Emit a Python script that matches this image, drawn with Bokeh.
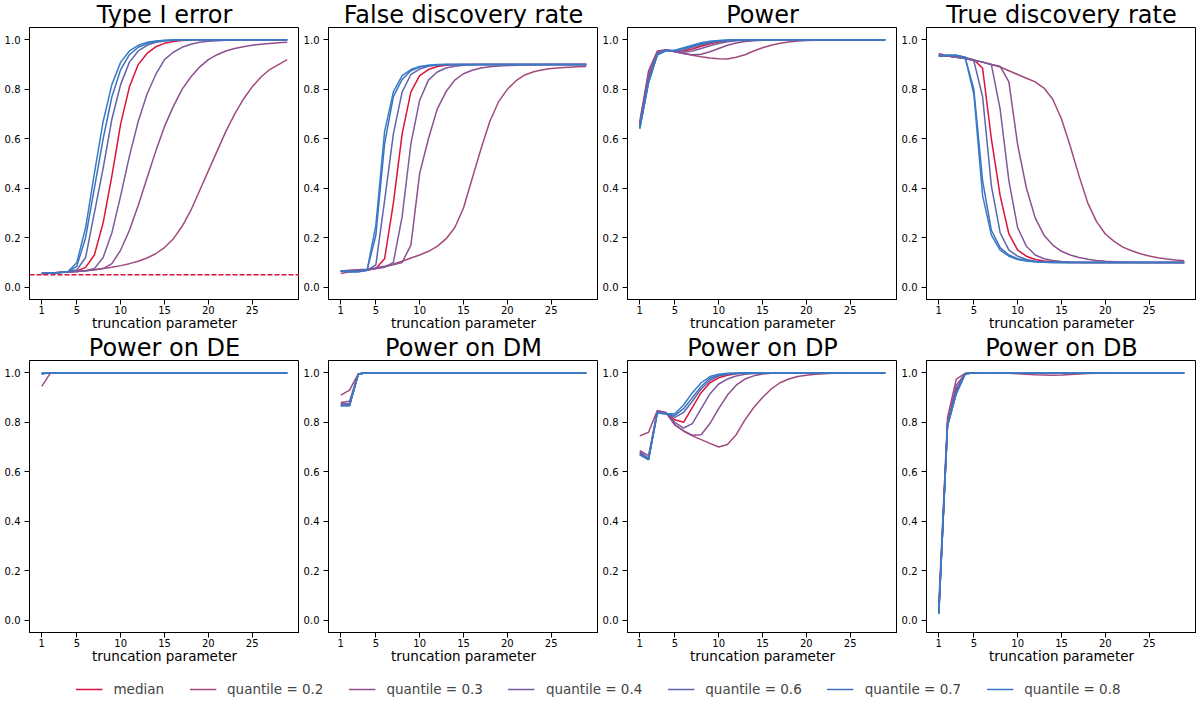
from bokeh.plotting import figure
from bokeh.models import Range1d, FixedTicker, NumeralTickFormatter, Span, Title, Legend, LegendItem
from bokeh.layouts import column, row
from bokeh.embed import file_html
from bokeh.resources import INLINE

FONT = "DejaVu Sans"

# ---------------- data ----------------
x_vals = [1, 2, 3, 4, 5, 6, 7, 8, 9, 10, 11, 12, 13, 14, 15, 16, 17, 18, 19, 20,
          21, 22, 23, 24, 25, 26, 27, 28, 29]
x_ticks = [1, 5, 10, 15, 20, 25]
y_ticks = [0.0, 0.2, 0.4, 0.6, 0.8, 1.0]
series_labels = ["median", "quantile = 0.2", "quantile = 0.3", "quantile = 0.4",
                 "quantile = 0.6", "quantile = 0.7", "quantile = 0.8"]
series_colors = ["#dc143c", "#a24a7d", "#8f4f8e", "#7c5a9e", "#5c66ae", "#4171bd", "#357dc9"]
panel_titles = ["Type I error", "False discovery rate", "Power", "True discovery rate",
                "Power on DE", "Power on DM", "Power on DP", "Power on DB"]
alpha_level = 0.05

# Type I error
t1_median = [0.055, 0.057, 0.059, 0.061, 0.065, 0.080, 0.130, 0.260, 0.450, 0.660,
             0.810, 0.900, 0.945, 0.972, 0.986, 0.993, 0.997, 0.999, 1.0, 1.0,
             1.0, 1.0, 1.0, 1.0, 1.0, 1.0, 1.0, 1.0, 1.0]
t1_q02 = [0.055, 0.057, 0.059, 0.061, 0.063, 0.066, 0.070, 0.075, 0.080, 0.087,
          0.095, 0.105, 0.118, 0.135, 0.160, 0.195, 0.245, 0.310, 0.390, 0.470,
          0.550, 0.630, 0.700, 0.760, 0.810, 0.850, 0.880, 0.900, 0.920]
t1_q03 = [0.055, 0.057, 0.059, 0.061, 0.063, 0.066, 0.070, 0.075, 0.095, 0.150,
          0.230, 0.330, 0.440, 0.550, 0.650, 0.730, 0.800, 0.850, 0.890, 0.920,
          0.940, 0.955, 0.965, 0.972, 0.978, 0.982, 0.985, 0.988, 0.990]
t1_q04 = [0.055, 0.057, 0.059, 0.061, 0.063, 0.066, 0.075, 0.120, 0.220, 0.370,
          0.530, 0.670, 0.780, 0.860, 0.920, 0.950, 0.970, 0.982, 0.990, 0.994,
          0.996, 0.998, 0.999, 1.0, 1.0, 1.0, 1.0, 1.0, 1.0]
t1_q06 = [0.055, 0.057, 0.059, 0.062, 0.070, 0.120, 0.300, 0.480, 0.680, 0.820,
          0.910, 0.955, 0.978, 0.990, 0.995, 0.998, 1.0, 1.0, 1.0, 1.0,
          1.0, 1.0, 1.0, 1.0, 1.0, 1.0, 1.0, 1.0, 1.0]
t1_q07 = [0.055, 0.057, 0.059, 0.062, 0.085, 0.200, 0.400, 0.600, 0.770, 0.880,
          0.940, 0.970, 0.985, 0.993, 0.997, 0.999, 1.0, 1.0, 1.0, 1.0,
          1.0, 1.0, 1.0, 1.0, 1.0, 1.0, 1.0, 1.0, 1.0]
t1_q08 = [0.055, 0.057, 0.059, 0.063, 0.100, 0.240, 0.460, 0.670, 0.820, 0.910,
          0.955, 0.978, 0.990, 0.995, 0.998, 0.999, 1.0, 1.0, 1.0, 1.0,
          1.0, 1.0, 1.0, 1.0, 1.0, 1.0, 1.0, 1.0, 1.0]

# False discovery rate
fdr_median = [0.065, 0.065, 0.066, 0.068, 0.075, 0.115, 0.340, 0.620, 0.790, 0.855,
              0.880, 0.892, 0.897, 0.899, 0.900, 0.900, 0.900, 0.900, 0.900, 0.900,
              0.900, 0.900, 0.900, 0.900, 0.900, 0.900, 0.900, 0.900, 0.900]
fdr_q02 = [0.055, 0.062, 0.067, 0.071, 0.077, 0.085, 0.094, 0.105, 0.118, 0.130,
           0.145, 0.165, 0.195, 0.240, 0.320, 0.440, 0.560, 0.670, 0.750, 0.800,
           0.835, 0.858, 0.871, 0.879, 0.884, 0.887, 0.889, 0.891, 0.892]
fdr_q03 = [0.065, 0.068, 0.070, 0.072, 0.076, 0.082, 0.090, 0.100, 0.170, 0.460,
           0.600, 0.720, 0.790, 0.837, 0.863, 0.877, 0.886, 0.891, 0.894, 0.896,
           0.897, 0.898, 0.899, 0.899, 0.900, 0.900, 0.900, 0.900, 0.900]
fdr_q04 = [0.065, 0.066, 0.068, 0.070, 0.074, 0.080, 0.100, 0.285, 0.580, 0.756,
           0.837, 0.870, 0.886, 0.893, 0.897, 0.899, 0.900, 0.900, 0.900, 0.900,
           0.900, 0.900, 0.900, 0.900, 0.900, 0.900, 0.900, 0.900, 0.900]
fdr_q06 = [0.065, 0.063, 0.063, 0.068, 0.090, 0.350, 0.620, 0.790, 0.860, 0.882,
           0.893, 0.898, 0.900, 0.900, 0.900, 0.900, 0.900, 0.900, 0.900, 0.900,
           0.900, 0.900, 0.900, 0.900, 0.900, 0.900, 0.900, 0.900, 0.900]
fdr_q07 = [0.065, 0.062, 0.062, 0.068, 0.210, 0.580, 0.770, 0.840, 0.875, 0.890,
           0.896, 0.899, 0.900, 0.900, 0.900, 0.900, 0.900, 0.900, 0.900, 0.900,
           0.900, 0.900, 0.900, 0.900, 0.900, 0.900, 0.900, 0.900, 0.900]
fdr_q08 = [0.065, 0.062, 0.062, 0.068, 0.250, 0.630, 0.790, 0.855, 0.880, 0.892,
           0.897, 0.900, 0.900, 0.900, 0.900, 0.900, 0.900, 0.900, 0.900, 0.900,
           0.900, 0.900, 0.900, 0.900, 0.900, 0.900, 0.900, 0.900, 0.900]

# Power
pow_median = [0.650, 0.840, 0.940, 0.958, 0.953, 0.955, 0.963, 0.974, 0.984, 0.991,
              0.995, 0.998, 0.999, 1.0, 1.0, 1.0, 1.0, 1.0, 1.0, 1.0,
              1.0, 1.0, 1.0, 1.0, 1.0, 1.0, 1.0, 1.0, 1.0]
pow_q02 = [0.670, 0.875, 0.955, 0.960, 0.952, 0.945, 0.938, 0.932, 0.927, 0.924,
           0.923, 0.930, 0.940, 0.955, 0.968, 0.978, 0.986, 0.991, 0.995, 0.997,
           0.998, 0.999, 1.0, 1.0, 1.0, 1.0, 1.0, 1.0, 1.0]
pow_q03 = [0.660, 0.860, 0.950, 0.960, 0.952, 0.945, 0.940, 0.942, 0.952, 0.965,
           0.978, 0.987, 0.993, 0.996, 0.998, 0.999, 1.0, 1.0, 1.0, 1.0,
           1.0, 1.0, 1.0, 1.0, 1.0, 1.0, 1.0, 1.0, 1.0]
pow_q04 = [0.655, 0.850, 0.945, 0.960, 0.953, 0.950, 0.955, 0.965, 0.976, 0.985,
           0.992, 0.996, 0.998, 0.999, 1.0, 1.0, 1.0, 1.0, 1.0, 1.0,
           1.0, 1.0, 1.0, 1.0, 1.0, 1.0, 1.0, 1.0, 1.0]
pow_q06 = [0.645, 0.830, 0.940, 0.957, 0.955, 0.960, 0.970, 0.980, 0.988, 0.994,
           0.997, 0.999, 1.0, 1.0, 1.0, 1.0, 1.0, 1.0, 1.0, 1.0,
           1.0, 1.0, 1.0, 1.0, 1.0, 1.0, 1.0, 1.0, 1.0]
pow_q07 = [0.642, 0.830, 0.940, 0.957, 0.957, 0.965, 0.975, 0.985, 0.992, 0.996,
           0.998, 0.999, 1.0, 1.0, 1.0, 1.0, 1.0, 1.0, 1.0, 1.0,
           1.0, 1.0, 1.0, 1.0, 1.0, 1.0, 1.0, 1.0, 1.0]
pow_q08 = [0.640, 0.825, 0.940, 0.957, 0.958, 0.968, 0.978, 0.988, 0.994, 0.997,
           0.999, 1.0, 1.0, 1.0, 1.0, 1.0, 1.0, 1.0, 1.0, 1.0,
           1.0, 1.0, 1.0, 1.0, 1.0, 1.0, 1.0, 1.0, 1.0]

# True discovery rate
tdr_median = [0.935, 0.935, 0.933, 0.928, 0.920, 0.885, 0.600, 0.370, 0.215, 0.150,
              0.125, 0.112, 0.106, 0.103, 0.101, 0.100, 0.100, 0.100, 0.100, 0.100,
              0.100, 0.100, 0.100, 0.100, 0.100, 0.100, 0.100, 0.100, 0.100]
tdr_q02 = [0.945, 0.935, 0.930, 0.925, 0.918, 0.910, 0.900, 0.890, 0.875, 0.860,
           0.845, 0.830, 0.805, 0.760, 0.680, 0.570, 0.450, 0.340, 0.265, 0.215,
           0.185, 0.162, 0.147, 0.135, 0.126, 0.119, 0.114, 0.110, 0.107]
tdr_q03 = [0.940, 0.935, 0.930, 0.925, 0.918, 0.910, 0.900, 0.893, 0.830, 0.575,
           0.400, 0.280, 0.210, 0.170, 0.145, 0.130, 0.120, 0.113, 0.108, 0.105,
           0.103, 0.102, 0.101, 0.100, 0.100, 0.100, 0.100, 0.100, 0.100]
tdr_q04 = [0.940, 0.935, 0.930, 0.925, 0.918, 0.910, 0.900, 0.720, 0.430, 0.240,
           0.165, 0.130, 0.115, 0.108, 0.104, 0.102, 0.101, 0.100, 0.100, 0.100,
           0.100, 0.100, 0.100, 0.100, 0.100, 0.100, 0.100, 0.100, 0.100]
tdr_q06 = [0.935, 0.937, 0.935, 0.930, 0.915, 0.770, 0.410, 0.220, 0.150, 0.125,
           0.112, 0.105, 0.102, 0.101, 0.100, 0.100, 0.100, 0.100, 0.100, 0.100,
           0.100, 0.100, 0.100, 0.100, 0.100, 0.100, 0.100, 0.100, 0.100]
tdr_q07 = [0.935, 0.938, 0.938, 0.930, 0.800, 0.430, 0.230, 0.160, 0.130, 0.115,
           0.107, 0.103, 0.101, 0.100, 0.100, 0.100, 0.100, 0.100, 0.100, 0.100,
           0.100, 0.100, 0.100, 0.100, 0.100, 0.100, 0.100, 0.100, 0.100]
tdr_q08 = [0.935, 0.938, 0.938, 0.930, 0.780, 0.370, 0.210, 0.150, 0.125, 0.112,
           0.106, 0.103, 0.101, 0.100, 0.100, 0.100, 0.100, 0.100, 0.100, 0.100,
           0.100, 0.100, 0.100, 0.100, 0.100, 0.100, 0.100, 0.100, 0.100]

# Power on DE
de_median = [0.997, 1.0, 1.0, 1.0, 1.0, 1.0, 1.0, 1.0, 1.0, 1.0,
             1.0, 1.0, 1.0, 1.0, 1.0, 1.0, 1.0, 1.0, 1.0, 1.0,
             1.0, 1.0, 1.0, 1.0, 1.0, 1.0, 1.0, 1.0, 1.0]
de_q02 = [0.945, 1.0, 1.0, 1.0, 1.0, 1.0, 1.0, 1.0, 1.0, 1.0,
          1.0, 1.0, 1.0, 1.0, 1.0, 1.0, 1.0, 1.0, 1.0, 1.0,
          1.0, 1.0, 1.0, 1.0, 1.0, 1.0, 1.0, 1.0, 1.0]
de_q03 = [0.995, 1.0, 1.0, 1.0, 1.0, 1.0, 1.0, 1.0, 1.0, 1.0,
          1.0, 1.0, 1.0, 1.0, 1.0, 1.0, 1.0, 1.0, 1.0, 1.0,
          1.0, 1.0, 1.0, 1.0, 1.0, 1.0, 1.0, 1.0, 1.0]
de_q04 = [0.997, 1.0, 1.0, 1.0, 1.0, 1.0, 1.0, 1.0, 1.0, 1.0,
          1.0, 1.0, 1.0, 1.0, 1.0, 1.0, 1.0, 1.0, 1.0, 1.0,
          1.0, 1.0, 1.0, 1.0, 1.0, 1.0, 1.0, 1.0, 1.0]
de_q06 = [0.997, 1.0, 1.0, 1.0, 1.0, 1.0, 1.0, 1.0, 1.0, 1.0,
          1.0, 1.0, 1.0, 1.0, 1.0, 1.0, 1.0, 1.0, 1.0, 1.0,
          1.0, 1.0, 1.0, 1.0, 1.0, 1.0, 1.0, 1.0, 1.0]
de_q07 = [0.997, 1.0, 1.0, 1.0, 1.0, 1.0, 1.0, 1.0, 1.0, 1.0,
          1.0, 1.0, 1.0, 1.0, 1.0, 1.0, 1.0, 1.0, 1.0, 1.0,
          1.0, 1.0, 1.0, 1.0, 1.0, 1.0, 1.0, 1.0, 1.0]
de_q08 = [0.997, 1.0, 1.0, 1.0, 1.0, 1.0, 1.0, 1.0, 1.0, 1.0,
          1.0, 1.0, 1.0, 1.0, 1.0, 1.0, 1.0, 1.0, 1.0, 1.0,
          1.0, 1.0, 1.0, 1.0, 1.0, 1.0, 1.0, 1.0, 1.0]

# Power on DM
dm_median = [0.870, 0.870, 0.995, 1.0, 1.0, 1.0, 1.0, 1.0, 1.0, 1.0,
             1.0, 1.0, 1.0, 1.0, 1.0, 1.0, 1.0, 1.0, 1.0, 1.0,
             1.0, 1.0, 1.0, 1.0, 1.0, 1.0, 1.0, 1.0, 1.0]
dm_q02 = [0.910, 0.930, 0.996, 1.0, 1.0, 1.0, 1.0, 1.0, 1.0, 1.0,
          1.0, 1.0, 1.0, 1.0, 1.0, 1.0, 1.0, 1.0, 1.0, 1.0,
          1.0, 1.0, 1.0, 1.0, 1.0, 1.0, 1.0, 1.0, 1.0]
dm_q03 = [0.880, 0.885, 0.995, 1.0, 1.0, 1.0, 1.0, 1.0, 1.0, 1.0,
          1.0, 1.0, 1.0, 1.0, 1.0, 1.0, 1.0, 1.0, 1.0, 1.0,
          1.0, 1.0, 1.0, 1.0, 1.0, 1.0, 1.0, 1.0, 1.0]
dm_q04 = [0.875, 0.875, 0.995, 1.0, 1.0, 1.0, 1.0, 1.0, 1.0, 1.0,
          1.0, 1.0, 1.0, 1.0, 1.0, 1.0, 1.0, 1.0, 1.0, 1.0,
          1.0, 1.0, 1.0, 1.0, 1.0, 1.0, 1.0, 1.0, 1.0]
dm_q06 = [0.868, 0.868, 0.995, 1.0, 1.0, 1.0, 1.0, 1.0, 1.0, 1.0,
          1.0, 1.0, 1.0, 1.0, 1.0, 1.0, 1.0, 1.0, 1.0, 1.0,
          1.0, 1.0, 1.0, 1.0, 1.0, 1.0, 1.0, 1.0, 1.0]
dm_q07 = [0.868, 0.868, 0.995, 1.0, 1.0, 1.0, 1.0, 1.0, 1.0, 1.0,
          1.0, 1.0, 1.0, 1.0, 1.0, 1.0, 1.0, 1.0, 1.0, 1.0,
          1.0, 1.0, 1.0, 1.0, 1.0, 1.0, 1.0, 1.0, 1.0]
dm_q08 = [0.867, 0.867, 0.995, 1.0, 1.0, 1.0, 1.0, 1.0, 1.0, 1.0,
          1.0, 1.0, 1.0, 1.0, 1.0, 1.0, 1.0, 1.0, 1.0, 1.0,
          1.0, 1.0, 1.0, 1.0, 1.0, 1.0, 1.0, 1.0, 1.0]

# Power on DP
dp_median = [0.675, 0.652, 0.840, 0.836, 0.810, 0.800, 0.860, 0.920, 0.960, 0.980,
             0.990, 0.996, 0.999, 1.0, 1.0, 1.0, 1.0, 1.0, 1.0, 1.0,
             1.0, 1.0, 1.0, 1.0, 1.0, 1.0, 1.0, 1.0, 1.0]
dp_q02 = [0.745, 0.760, 0.848, 0.840, 0.790, 0.765, 0.745, 0.730, 0.715, 0.700,
          0.710, 0.750, 0.810, 0.860, 0.900, 0.935, 0.960, 0.975, 0.985, 0.990,
          0.994, 0.996, 0.998, 0.999, 1.0, 1.0, 1.0, 1.0, 1.0]
dp_q03 = [0.685, 0.665, 0.845, 0.838, 0.790, 0.765, 0.748, 0.750, 0.795, 0.855,
          0.910, 0.950, 0.975, 0.988, 0.995, 0.998, 0.999, 1.0, 1.0, 1.0,
          1.0, 1.0, 1.0, 1.0, 1.0, 1.0, 1.0, 1.0, 1.0]
dp_q04 = [0.680, 0.655, 0.843, 0.837, 0.800, 0.777, 0.795, 0.855, 0.915, 0.955,
          0.975, 0.987, 0.994, 0.997, 0.999, 1.0, 1.0, 1.0, 1.0, 1.0,
          1.0, 1.0, 1.0, 1.0, 1.0, 1.0, 1.0, 1.0, 1.0]
dp_q06 = [0.672, 0.650, 0.838, 0.835, 0.820, 0.840, 0.885, 0.935, 0.970, 0.987,
          0.994, 0.997, 0.999, 1.0, 1.0, 1.0, 1.0, 1.0, 1.0, 1.0,
          1.0, 1.0, 1.0, 1.0, 1.0, 1.0, 1.0, 1.0, 1.0]
dp_q07 = [0.670, 0.650, 0.838, 0.835, 0.828, 0.855, 0.900, 0.945, 0.978, 0.990,
          0.996, 0.998, 0.999, 1.0, 1.0, 1.0, 1.0, 1.0, 1.0, 1.0,
          1.0, 1.0, 1.0, 1.0, 1.0, 1.0, 1.0, 1.0, 1.0]
dp_q08 = [0.668, 0.648, 0.838, 0.835, 0.835, 0.870, 0.920, 0.960, 0.985, 0.994,
          0.998, 0.999, 1.0, 1.0, 1.0, 1.0, 1.0, 1.0, 1.0, 1.0,
          1.0, 1.0, 1.0, 1.0, 1.0, 1.0, 1.0, 1.0, 1.0]

# Power on DB
db_median = [0.028, 0.790, 0.925, 0.996, 1.0, 1.0, 1.0, 1.0, 1.0, 1.0,
             1.0, 1.0, 1.0, 1.0, 1.0, 1.0, 1.0, 1.0, 1.0, 1.0,
             1.0, 1.0, 1.0, 1.0, 1.0, 1.0, 1.0, 1.0, 1.0]
db_q02 = [0.060, 0.820, 0.975, 0.998, 0.999, 1.0, 1.0, 0.999, 0.998, 0.996,
          0.994, 0.992, 0.991, 0.990, 0.991, 0.993, 0.995, 0.997, 0.998, 0.999,
          1.0, 1.0, 1.0, 1.0, 1.0, 1.0, 1.0, 1.0, 1.0]
db_q03 = [0.040, 0.800, 0.950, 0.997, 1.0, 1.0, 1.0, 1.0, 1.0, 1.0,
          1.0, 1.0, 1.0, 1.0, 1.0, 1.0, 1.0, 1.0, 1.0, 1.0,
          1.0, 1.0, 1.0, 1.0, 1.0, 1.0, 1.0, 1.0, 1.0]
db_q04 = [0.030, 0.795, 0.935, 0.996, 1.0, 1.0, 1.0, 1.0, 1.0, 1.0,
          1.0, 1.0, 1.0, 1.0, 1.0, 1.0, 1.0, 1.0, 1.0, 1.0,
          1.0, 1.0, 1.0, 1.0, 1.0, 1.0, 1.0, 1.0, 1.0]
db_q06 = [0.027, 0.790, 0.920, 0.995, 1.0, 1.0, 1.0, 1.0, 1.0, 1.0,
          1.0, 1.0, 1.0, 1.0, 1.0, 1.0, 1.0, 1.0, 1.0, 1.0,
          1.0, 1.0, 1.0, 1.0, 1.0, 1.0, 1.0, 1.0, 1.0]
db_q07 = [0.026, 0.785, 0.918, 0.995, 1.0, 1.0, 1.0, 1.0, 1.0, 1.0,
          1.0, 1.0, 1.0, 1.0, 1.0, 1.0, 1.0, 1.0, 1.0, 1.0,
          1.0, 1.0, 1.0, 1.0, 1.0, 1.0, 1.0, 1.0, 1.0]
db_q08 = [0.025, 0.785, 0.915, 0.995, 1.0, 1.0, 1.0, 1.0, 1.0, 1.0,
          1.0, 1.0, 1.0, 1.0, 1.0, 1.0, 1.0, 1.0, 1.0, 1.0,
          1.0, 1.0, 1.0, 1.0, 1.0, 1.0, 1.0, 1.0, 1.0]

panel_series = [
    [t1_median, t1_q02, t1_q03, t1_q04, t1_q06, t1_q07, t1_q08],
    [fdr_median, fdr_q02, fdr_q03, fdr_q04, fdr_q06, fdr_q07, fdr_q08],
    [pow_median, pow_q02, pow_q03, pow_q04, pow_q06, pow_q07, pow_q08],
    [tdr_median, tdr_q02, tdr_q03, tdr_q04, tdr_q06, tdr_q07, tdr_q08],
    [de_median, de_q02, de_q03, de_q04, de_q06, de_q07, de_q08],
    [dm_median, dm_q02, dm_q03, dm_q04, dm_q06, dm_q07, dm_q08],
    [dp_median, dp_q02, dp_q03, dp_q04, dp_q06, dp_q07, dp_q08],
    [db_median, db_q02, db_q03, db_q04, db_q06, db_q07, db_q08],
]

# ---------------- layout ----------------
FRAME_W = 270
FRAME_H = 272


def make_panel(title, series, bottom_border):
    p = figure(frame_width=FRAME_W, frame_height=FRAME_H,
               x_range=Range1d(-0.4, 30.4), y_range=Range1d(-0.05, 1.05),
               output_backend="svg", toolbar_location=None, title=None,
               min_border_left=29, min_border_right=0,
               min_border_top=0, min_border_bottom=bottom_border,
               background_fill_color="white", border_fill_color="white")
    p.title = Title(text=title, align="center", text_font=FONT, text_font_size="24px",
                    text_font_style="normal", text_color="black", text_line_height=1.0,
                    standoff=-3, offset=0)
    p.xgrid.visible = False
    p.ygrid.visible = False
    p.outline_line_color = "black"
    p.outline_line_alpha = 1.0
    p.outline_line_width = 1
    for ax in (p.xaxis[0], p.yaxis[0]):
        ax.axis_line_color = "black"
        ax.major_tick_line_color = "black"
        ax.major_tick_out = 5
        ax.major_tick_in = 0
        ax.minor_tick_line_color = None
        ax.major_label_text_font = FONT
        ax.major_label_text_font_size = "10px"
        ax.major_label_text_color = "black"
    p.xaxis.ticker = FixedTicker(ticks=x_ticks)
    p.yaxis.ticker = FixedTicker(ticks=y_ticks)
    p.yaxis.formatter = NumeralTickFormatter(format="0.0")
    p.xaxis.major_label_standoff = 1
    p.yaxis.major_label_standoff = 4
    p.xaxis.axis_label = "truncation parameter"
    p.xaxis.axis_label_text_font = FONT
    p.xaxis.axis_label_text_font_size = "13.5px"
    p.xaxis.axis_label_text_font_style = "normal"
    p.xaxis.axis_label_text_color = "black"
    p.xaxis.axis_label_standoff = -2

    for vals, color in zip(series, series_colors):
        p.line(x_vals, vals, line_color=color, line_width=1.5)
    return p


panels = [make_panel(ttl, ser, 33 if i < 4 else 0)
          for i, (ttl, ser) in enumerate(zip(panel_titles, panel_series))]

panels[0].add_layout(Span(location=alpha_level, dimension="width", line_color="#dc143c",
                          line_dash="5 2", line_width=1.5))

leg = figure(width=4 * (29 + FRAME_W), height=37, output_backend="svg", toolbar_location=None,
             title=None, x_axis_type=None, y_axis_type=None,
             min_border_top=9, min_border_bottom=0, min_border_left=0, min_border_right=0,
             x_range=Range1d(0, 1), y_range=Range1d(0, 1))
leg.outline_line_color = None
items = []
for lbl, color in zip(series_labels, series_colors):
    r = leg.line([-10, -9], [-10, -9], line_color=color, line_width=1.5)
    items.append(LegendItem(label=lbl, renderers=[r]))
legend = Legend(items=items, orientation="horizontal", location="center",
                glyph_width=27, glyph_height=14, label_standoff=11, spacing=25,
                padding=0, margin=0, border_line_color=None, background_fill_alpha=0,
                label_text_font=FONT, label_text_font_size="13.5px")
leg.add_layout(legend, "center")

layout = column(row(*panels[:4]), row(*panels[4:]), leg)

open("out.html", "w").write(file_html(layout, INLINE))
